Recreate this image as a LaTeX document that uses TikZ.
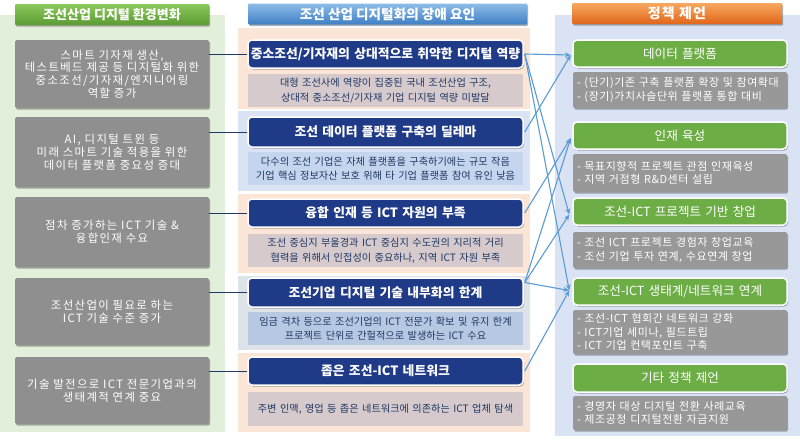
\documentclass[tikz,border=0pt]{standalone}
\usepackage{fontspec}
\setmainfont{Noto Sans CJK KR}
\usetikzlibrary{arrows.meta,shadows,calc}
\definecolor{lpanel}{HTML}{E2EFDA}
\definecolor{rpanel}{HTML}{DAE3F3}
\definecolor{peach}{HTML}{FBE5D6}
\definecolor{bandblue}{HTML}{DAE3F3}
\definecolor{bandgray}{HTML}{DEE3EA}
\definecolor{dmauve}{HTML}{D6CACD}
\definecolor{dblue}{HTML}{C5D5EE}
\definecolor{dblueB}{HTML}{B7C8E2}
\definecolor{lgray}{HTML}{8F8F8F}
\definecolor{rgray}{HTML}{989898}
\definecolor{pgreen}{HTML}{6DAD46}
\definecolor{navy}{HTML}{1F3A87}
\definecolor{navytext}{HTML}{1F3864}
\definecolor{arrowblue}{HTML}{5B9BD5}
\definecolor{hgtop}{HTML}{8CC85C}
\definecolor{hgbot}{HTML}{5A9B32}
\definecolor{hbtop}{HTML}{8DBCE8}
\definecolor{hbbot}{HTML}{3F7FC4}
\definecolor{hotop}{HTML}{F8A760}
\definecolor{hobot}{HTML}{E0661A}
\begin{document}
\begin{tikzpicture}[x=1pt,y=-1pt,
  base/.style={rectangle, inner sep=0pt, align=center},
  shad/.style={drop shadow={shadow xshift=1pt, shadow yshift=-1.5pt, opacity=0.3, fill=black}},
  header/.style={base, shad, text=white, font=\fontsize{13}{15}\selectfont\bfseries, minimum height=21pt, rounded corners=1pt},
  leftbox/.style={base, shad, fill=lgray, text=white, minimum width=194pt, text width=192pt, rounded corners=1.5pt, font=\fontsize{11.4}{12.8}\selectfont\addfontfeatures{LetterSpace=12}},
  bar/.style={base, shad, fill=navy, draw=white, line width=1.5pt, text=white, minimum width=275pt, text width=273pt, minimum height=28pt, rounded corners=4pt, font=\fontsize{12.8}{14}\selectfont\bfseries},
  mdesc/.style={base, text=navytext, minimum width=275pt, text width=273pt, minimum height=33pt, font=\fontsize{10.2}{14.5}\selectfont},
  pbox/.style={base, shad, fill=pgreen, draw=white, line width=1.5pt, text=white, minimum width=214pt, text width=210pt, minimum height=27pt, rounded corners=4pt, font=\fontsize{12.6}{14}\selectfont},
  rdesc/.style={base, shad, fill=rgray, text=white, align=left, minimum width=214pt, text width=206pt, inner xsep=4pt, rounded corners=1.5pt, font=\fontsize{11}{13.5}\selectfont\addfontfeatures{LetterSpace=5}},
  conn/.style={draw=navytext, line width=1pt},
  arr/.style={draw=arrowblue, line width=1.1pt, -{Stealth[length=6pt,width=5pt]}}
]
\useasboundingbox (0,0) rectangle (800,439);
\fill[white] (0,0) rectangle (800,439);
% panels
\fill[lpanel] (0,15) rectangle (225,432);
\fill[rpanel] (555,15) rectangle (800,436);
\fill[peach] (238,28) rectangle (530,109);
\fill[bandblue] (238,111) rectangle (530,191);
\fill[peach] (238,194) rectangle (530,273);
\fill[bandgray] (238,276) rectangle (530,350);
\fill[peach] (238,353) rectangle (530,432);
% headers
\node[header, top color=hgtop, bottom color=hgbot, minimum width=194pt] (HL) at (112,14.5) {조선산업 디지털 환경변화};
\node[header, top color=hbtop, bottom color=hbbot, minimum width=279pt, font=\fontsize{13.6}{15}\selectfont\bfseries] (HM) at (387.5,14) {조선 산업 디지털화의 장애 요인};
\node[header, top color=hotop, bottom color=hobot, minimum width=210pt, font=\fontsize{14}{15}\selectfont\bfseries\addfontfeatures{LetterSpace=8}] (HR) at (677,13.5) {정책 제언};
% left boxes
\node[leftbox, minimum height=68pt] (L1) at (112,74) {스마트 기자재 생산,\\테스트베드 제공 등 디지털화 위한\\중소조선/기자재/엔지니어링\\역할 증가};
\node[leftbox, minimum height=70pt] (L2) at (112,152) {AI, 디지털 트윈 등\\미래 스마트 기술 적용을 위한\\데이터 플랫폼 중요성 증대};
\node[leftbox, minimum height=70pt] (L3) at (112,232) {점차 증가하는 ICT 기술 \&\\융합인재 수요};
\node[leftbox, minimum height=67pt] (L4) at (112,311.5) {조선산업이 필요로 하는\\ICT 기술 수준 증가};
\node[leftbox, minimum height=67pt] (L5) at (112,390.5) {기술 발전으로 ICT 전문기업과의\\생태계적 연계 중요};
% middle bars
\node[bar] (B1) at (385.5,54) {중소조선/기자재의 상대적으로 취약한 디지털 역량};
\node[mdesc, fill=dmauve] (D1) at (385.5,90.5) {대형 조선사에 역량이 집중된 국내 조선산업 구조,\\상대적 중소조선/기자재 기업 디지털 역량 미발달};
\node[bar, minimum height=30pt] (B2) at (385.5,132) {조선 데이터 플랫폼 구축의 딜레마};
\node[mdesc, fill=dblue] (D2) at (385.5,168.5) {다수의 조선 기업은 자체 플랫폼을 구축하기에는 규모 작음\\기업 핵심 정보자산 보호 위해 타 기업 플랫폼 참여 유인 낮음};
\node[bar] (B3) at (385.5,213) {융합 인재 등 ICT 자원의 부족};
\node[mdesc, fill=dmauve] (D3) at (385.5,250.5) {조선 중심지 부울경과 ICT 중심지 수도권의 지리적 거리\\협력을 위해서 인접성이 중요하나, 지역 ICT 자원 부족};
\node[bar, minimum height=29pt] (B4) at (385.5,292.5) {조선기업 디지털 기술 내부화의 한계};
\node[mdesc, fill=dblueB] (D4) at (385.5,328.5) {임금 격차 등으로 조선기업의 ICT 전문가 확보 및 유지 한계\\프로젝트 단위로 간헐적으로 발생하는 ICT 수요};
\node[bar] (B5) at (385.5,371) {좁은 조선-ICT 네트워크};
\node[mdesc, fill=dmauve, minimum height=34pt] (D5) at (385.5,409) {주변 인맥, 영업 등 좁은 네트워크에 의존하는 ICT 업체 탐색};
% right boxes
\node[pbox] (P1) at (680,53.5) {데이터 플랫폼};
\node[rdesc, minimum height=36pt] (G1) at (680,90) {- (단기)기존 구축 플랫폼 확장 및 참여확대\\- (장기)가치사슬단위 플랫폼 통합 대비};
\node[pbox] (P2) at (680,135.5) {인재 육성};
\node[rdesc, minimum height=38pt] (G2) at (680,173) {- 목표지향적 프로젝트 관점 인재육성\\- 지역 거점형 R\&D센터 설립};
\node[pbox] (P3) at (680,211.5) {조선-ICT 프로젝트 기반 창업};
\node[rdesc, minimum height=36pt] (G3) at (680,250) {- 조선 ICT 프로젝트 경험자 창업교육\\- 조선 기업 투자 연계, 수요연계 창업};
\node[pbox] (P4) at (680,291.5) {조선-ICT 생태계/네트워크 연계};
\node[rdesc, minimum height=44pt] (G4) at (680,332) {- 조선-ICT 협회간 네트워크 강화\\- ICT기업 세미나, 필드트립\\- ICT 기업 컨택포인트 구축};
\node[pbox, minimum height=28pt] (P5) at (680,378) {기타 정책 제언};
\node[rdesc, minimum height=34pt] (G5) at (680,413) {- 경영자 대상 디지털 전환 사례교육\\- 제조공정 디지털전환 자금지원};
% left connectors
\draw[conn] (L1.east |- B1.west) -- (B1.west);
\draw[conn] (L2.east |- B2.west) -- (B2.west);
\draw[conn] (L3.east |- B3.west) -- (B3.west);
\draw[conn] (L4.east |- B4.west) -- (B4.west);
\draw[conn] (L5.east |- B5.west) -- (B5.west);
% arrow end points
\coordinate (e1) at ($(P1.west)+(-1.5,1.5)$);
\coordinate (e2) at ($(P2.west)+(-1.5,2.5)$);
\coordinate (e3) at ($(P3.west)+(-3,3)$);
\coordinate (e4) at ($(P4.west)+(-3,-1)$);
% arrows
\draw[arr] ($(B1.east)+(1,0)$) -- (e1);
\draw[arr] ($(B1.east)+(1,0)$) -- (e3);
\draw[arr] ($(B1.east)+(1,0)$) -- (e4);
\draw[arr] ($(B2.east)+(1,0)$) -- (e1);
\draw[arr] ($(B3.east)+(1,0)$) -- (e2);
\draw[arr] ($(B4.east)+(1,-10)$) -- (e2);
\draw[arr] ($(B4.east)+(1,-10)$) -- (e3);
\draw[arr] ($(B4.east)+(1,-10)$) -- (e4);
\draw[arr] ($(B5.east)+(1,0)$) -- (e4);
\end{tikzpicture}
\end{document}
